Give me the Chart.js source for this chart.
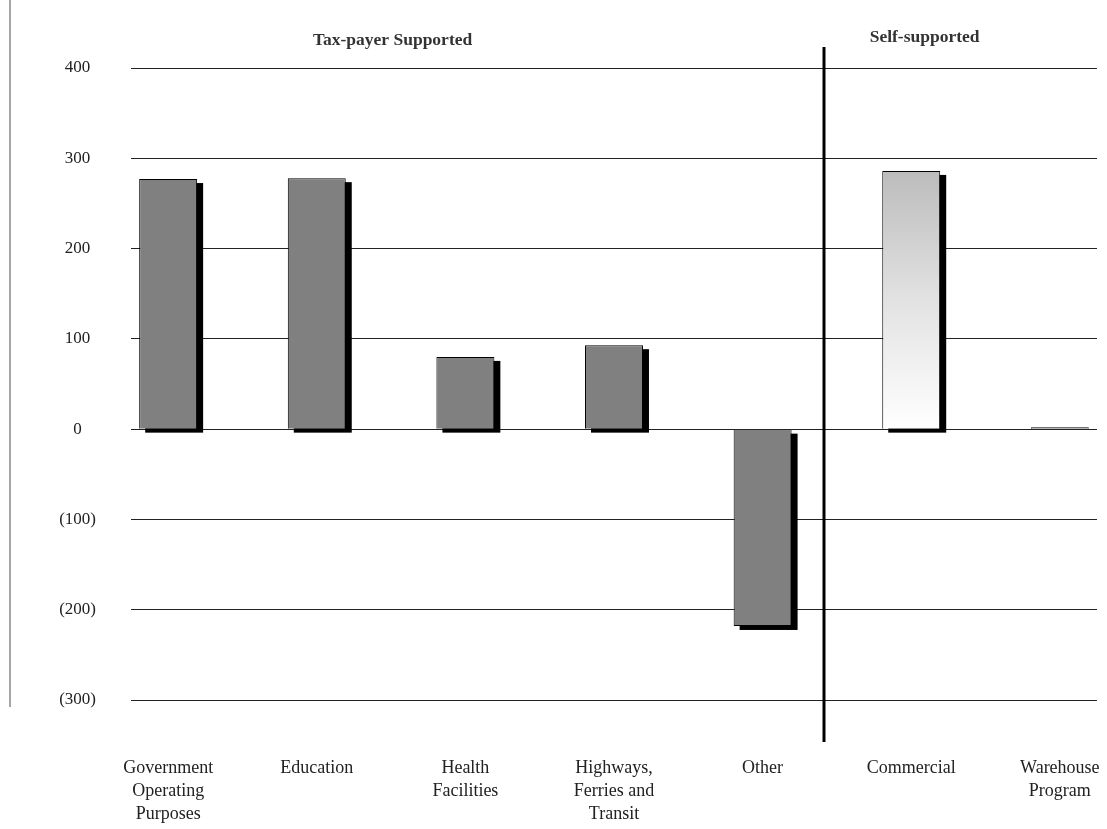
<!DOCTYPE html>
<html>
<head>
<meta charset="utf-8">
<script src="https://cdn.jsdelivr.net/npm/chart.js@4"></script>
<style>
    html, body { margin: 0; padding: 0; background: #fff; overflow: hidden; }
    #wrap { position: relative; width: 1107px; height: 829px; }
</style>
</head>
<body>
<div id="wrap"><canvas id="debtChart"></canvas></div>
<script>
// chart values
const categories = [
    ['Government', 'Operating', 'Purposes'],
    'Education',
    ['Health', 'Facilities'],
    ['Highways,', 'Ferries and', 'Transit'],
    'Other',
    'Commercial',
    ['Warehouse', 'Program']
];
const amounts = [277, 278, 80, 93, -218, 286, 2];
const yMin = -300;
const yMax = 400;
const yStep = 100;

// group headings and the divider between them (in category units)
const groupTitles = ['Tax-payer Supported', 'Self-supported'];
const groupCenters = [1.51, 5.09];
const dividerAt = 4.41;
const gradientCategory = 'Commercial';

const serif = "'Liberation Serif', 'DejaVu Serif', serif";

function formatTick(v) {
    return v < 0 ? '(' + Math.abs(v) + ')' : String(v);
}

function barFill(c) {
    const label = categories[c.dataIndex];
    if (label !== gradientCategory) return '#808080';
    const chart = c.chart;
    if (!chart.chartArea) return '#c0c0c0';
    const y = chart.scales.y;
    const g = chart.ctx.createLinearGradient(0, y.getPixelForValue(amounts[c.dataIndex]), 0, y.getPixelForValue(0));
    g.addColorStop(0, '#bcbcbc');
    g.addColorStop(0.5, '#e2e2e2');
    g.addColorStop(1, '#ffffff');
    return g;
}

// black drop shadow behind each bar, taken from the bar elements
const shadowPlugin = {
    id: 'barShadow',
    beforeDatasetsDraw(chart) {
        const ctx = chart.ctx;
        const meta = chart.getDatasetMeta(0);
        ctx.save();
        ctx.fillStyle = '#000';
        meta.data.forEach((el) => {
            const p = el.getProps(['x', 'y', 'base', 'width'], true);
            const top = Math.min(p.y, p.base);
            const h = Math.abs(p.base - p.y);
            if (h < 4) return;
            ctx.fillRect(p.x - p.width / 2 + 6, top + 4, p.width, h);
        });
        ctx.restore();
    }
};

// left rule, divider and group titles
const decorPlugin = {
    id: 'decor',
    afterDraw(chart) {
        const ctx = chart.ctx;
        const x = chart.scales.x;
        ctx.save();
        ctx.strokeStyle = '#888';
        ctx.lineWidth = 1.5;
        ctx.beginPath();
        ctx.moveTo(10, 0);
        ctx.lineTo(10, 707);
        ctx.stroke();

        const dx = Math.round(x.getPixelForValue(dividerAt));
        ctx.strokeStyle = '#000';
        ctx.lineWidth = 3;
        ctx.beginPath();
        ctx.moveTo(dx, chart.chartArea.top - 21);
        ctx.lineTo(dx, chart.chartArea.bottom + 42);
        ctx.stroke();

        ctx.fillStyle = '#333';
        ctx.font = 'bold 17.5px ' + serif;
        ctx.textAlign = 'center';
        ctx.textBaseline = 'middle';
        groupTitles.forEach((t, i) => {
            ctx.fillText(t, x.getPixelForValue(groupCenters[i]), i === 0 ? 40 : 37);
        });
        ctx.restore();
    }
};

const ctx = document.getElementById('debtChart').getContext('2d');
new Chart(ctx, {
    type: 'bar',
    data: {
        datasets: [{
            data: amounts.map((v, i) => ({ x: i, y: v })),
            backgroundColor: barFill,
            borderColor: '#000',
            borderWidth: 1,
            barPercentage: 0.39,
            categoryPercentage: 1
        }]
    },
    options: {
        responsive: true,
        maintainAspectRatio: false,
        animation: false,
        layout: { padding: { top: 68, right: 10, bottom: 0, left: 0 } },
        plugins: {
            legend: { display: false },
            tooltip: { enabled: false }
        },
        scales: {
            x: {
                type: 'linear',
                offset: false,
                min: -0.25,
                max: 6.25,
                afterBuildTicks: (scale) => {
                    scale.ticks = categories.map((c, i) => ({ value: i }));
                },
                afterFit: (scale) => {
                    scale.height = 129;
                    scale.paddingLeft = 0;
                    scale.paddingRight = 0;
                },
                grid: { display: false, drawTicks: false },
                border: { display: false },
                ticks: {
                    autoSkip: false,
                    maxRotation: 0,
                    padding: 57,
                    color: '#222',
                    font: { family: serif, size: 18, lineHeight: 1.28 },
                    callback: (v) => categories[v]
                }
            },
            y: {
                min: yMin,
                max: yMax,
                afterFit: (scale) => { scale.width = 131; },
                grid: { color: '#222', lineWidth: 1, drawTicks: false },
                border: { display: false },
                ticks: {
                    stepSize: yStep,
                    padding: 35,
                    crossAlign: 'center',
                    color: '#222',
                    font: { family: serif, size: 17 },
                    callback: formatTick
                }
            }
        }
    },
    plugins: [shadowPlugin, decorPlugin]
});
</script>
</body>
</html>
